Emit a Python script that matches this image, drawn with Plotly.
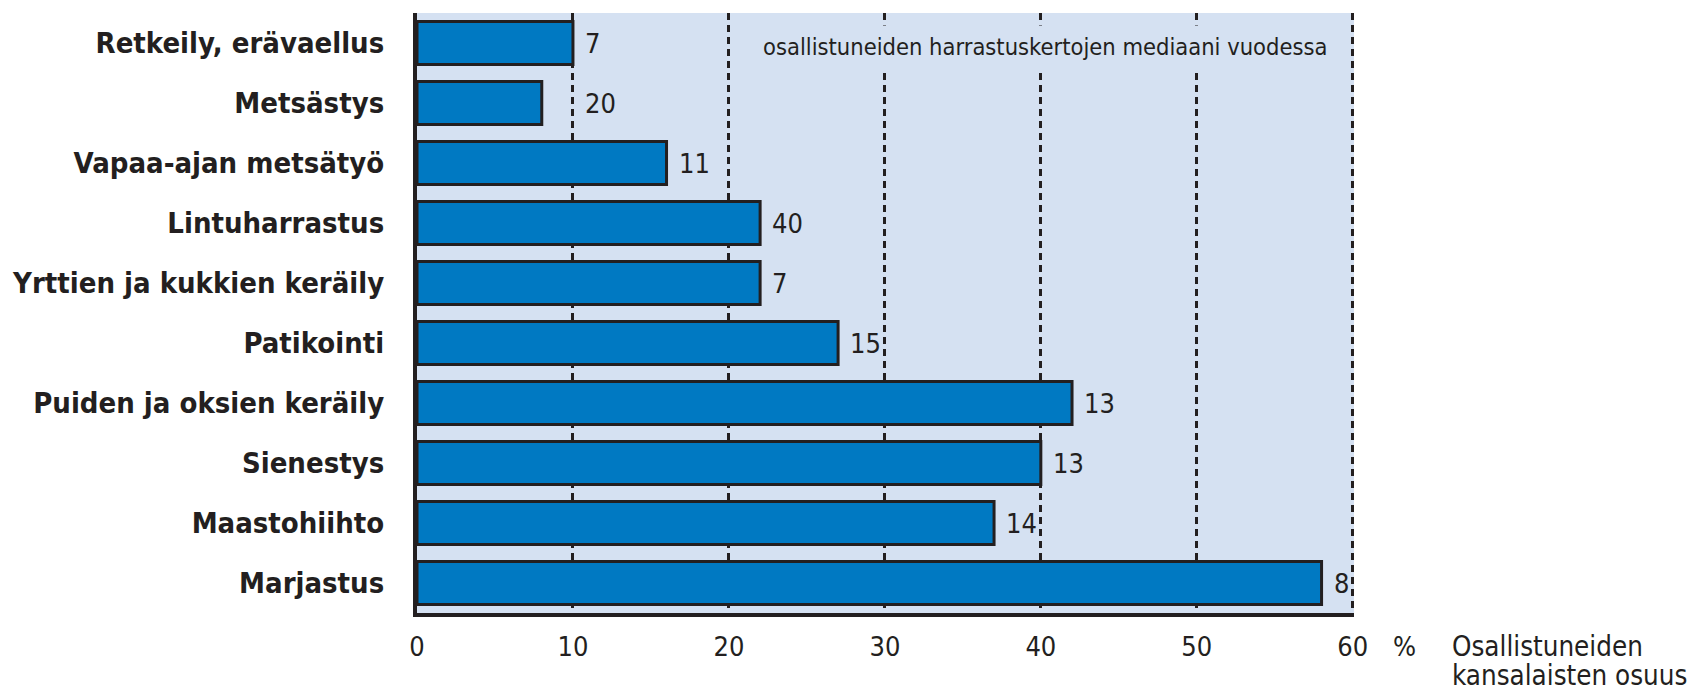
import plotly.graph_objects as go

categories = ["Retkeily, erävaellus", "Metsästys", "Vapaa-ajan metsätyö", "Lintuharrastus",
              "Yrttien ja kukkien keräily", "Patikointi", "Puiden ja oksien keräily",
              "Sienestys", "Maastohiihto", "Marjastus"]
share_pct = [10, 8, 16, 22, 22, 27, 42, 40, 37, 58]
median_times = [7, 20, 11, 40, 7, 15, 13, 13, 14, 8]
x_ticks = [0, 10, 20, 30, 40, 50, 60]

FONT = "Liberation Sans Narrow, DejaVu Sans Condensed, sans-serif"
INK = "#231f20"
BG = "#d5e1f2"

fig = go.Figure()
fig.add_trace(go.Bar(
    y=categories, x=share_pct, orientation="h",
    marker=dict(color="#0079c2", line=dict(color=INK, width=3)),
    hoverinfo="x+y",
))

for cat, v, m in zip(categories, share_pct, median_times):
    fig.add_annotation(x=max(v, 10), y=cat, text=str(m), showarrow=False,
                       xanchor="left", xshift=10, yanchor="middle",
                       font=dict(family=FONT, size=27, color=INK))

fig.add_annotation(x=0.67, y=0.943, xref="paper", yref="paper",
                   text="osallistuneiden harrastuskertojen mediaani vuodessa",
                   showarrow=False, xanchor="center", yanchor="middle",
                   bgcolor=BG, borderpad=7,
                   font=dict(family=FONT, size=23.5, color=INK))

fig.add_annotation(x=1.0395, y=-0.055, xref="paper", yref="paper", text="%",
                   showarrow=False, xanchor="left", yanchor="middle",
                   font=dict(family=FONT, size=27, color=INK))
fig.add_annotation(x=1.1026, y=-0.055, xref="paper", yref="paper",
                   text="Osallistuneiden", align="left",
                   showarrow=False, xanchor="left", yanchor="middle",
                   font=dict(family=FONT, size=27.5, color=INK))
fig.add_annotation(x=1.1026, y=-0.104, xref="paper", yref="paper",
                   text="kansalaisten osuus", align="left",
                   showarrow=False, xanchor="left", yanchor="middle",
                   font=dict(family=FONT, size=27.5, color=INK))

fig.update_layout(
    width=1693, height=690,
    margin=dict(l=417, r=339, t=13, b=77, autoexpand=False),
    paper_bgcolor="white", plot_bgcolor=BG,
    bargap=0.28, showlegend=False,
    xaxis=dict(range=[0, 60.08], tickvals=x_ticks, showgrid=True, gridcolor=INK,
               griddash="7px,5px", gridwidth=2.5, zeroline=False,
               showline=True, linecolor=INK, linewidth=4, automargin=False,
               ticks="", ticklabelstandoff=7,
               tickfont=dict(family=FONT, size=27, color=INK), fixedrange=True),
    yaxis=dict(categoryorder="array", categoryarray=categories, autorange="reversed",
               showgrid=False, zeroline=False, showline=True, linecolor=INK, linewidth=4,
               ticks="", ticklabelstandoff=23, automargin=False,
               tickfont=dict(family=FONT, size=29, color=INK, weight="bold"),
               fixedrange=True),
)

fig.write_html("out.html", config={"displayModeBar": False},
               post_script="document.body.style.margin='0';document.body.style.overflow='hidden';")
